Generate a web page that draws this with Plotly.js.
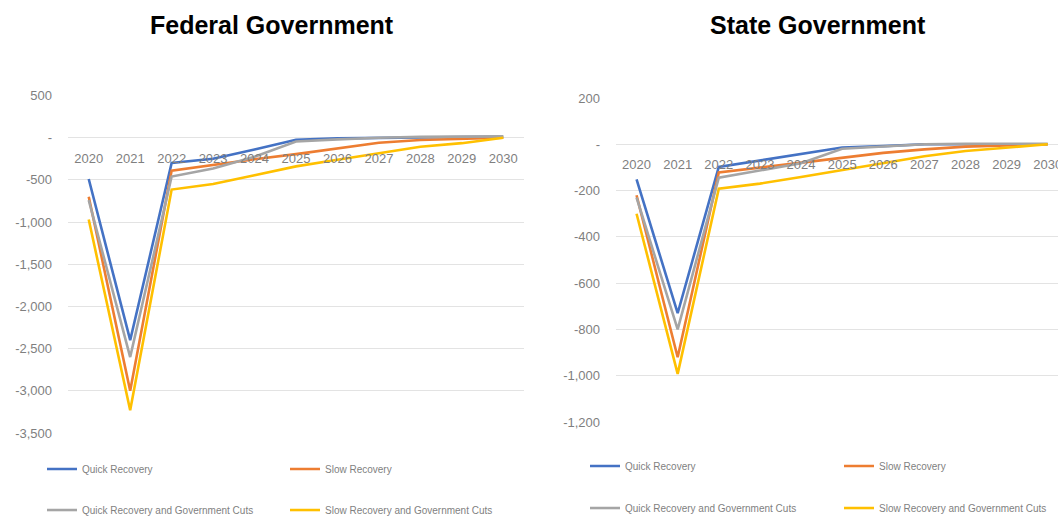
<!DOCTYPE html>
<html>
<head>
<meta charset="utf-8">
<script src="https://cdn.plot.ly/plotly-3.0.1.min.js"></script>
<style>html,body{margin:0;padding:0;background:#fff;}#chart{width:1058px;height:516px;}</style>
</head>
<body>
<div id="chart"></div>
<script>
const years = ['2020','2021','2022','2023','2024','2025','2026','2027','2028','2029','2030'];
const seriesNames = ['Quick Recovery','Slow Recovery','Quick Recovery and Government Cuts','Slow Recovery and Government Cuts'];
const chartTitles = ['Federal Government','State Government'];

// Federal Government
const fedQuick     = [-490, -2400, -300, -250, -140, -25, -8, 0, 5, 8, 10];
const fedSlow      = [-700, -3000, -390, -320, -255, -195, -125, -60, -27, -15, 0];
const fedQuickCuts = [-740, -2600, -460, -365, -225, -45, -20, 0, 10, 12, 15];
const fedSlowCuts  = [-970, -3230, -615, -550, -445, -340, -262, -185, -107, -65, 0];

// State Government
const stQuick     = [-152, -730, -98, -70, -40, -14, -8, 0, 0, 0, 0];
const stSlow      = [-220, -920, -122, -100, -78, -58, -37, -22, -10, -5, 0];
const stQuickCuts = [-230, -800, -144, -112, -82, -19, -8, 0, 2, 2, 2];
const stSlowCuts  = [-300, -992, -192, -170, -141, -112, -81, -52, -29, -14, 0];

const fedTickVals = [500, 0, -500, -1000, -1500, -2000, -2500, -3000, -3500];
const fedTickText = ['500', '-', '-500', '-1,000', '-1,500', '-2,000', '-2,500', '-3,000', '-3,500'];
const stTickVals = [200, 0, -200, -400, -600, -800, -1000, -1200];
const stTickText = ['200', '-', '-200', '-400', '-600', '-800', '-1,000', '-1,200'];

const colors = ['#4472C4', '#ED7D31', '#A5A5A5', '#FFC000'];

const W = 1058, H = 516;
const fedRange = [-3500, 500], stRange = [-1200, 200];
const fedYDom = [(H - 433) / H, (H - 95.5) / H];
const stYDom = [(H - 422) / H, (H - 98) / H];
const fedXDom = [68 / W, 524 / W];
const stXDom = [616 / W, 1];
function zeroPos(dom, r) { return dom[0] + (0 - r[0]) / (r[1] - r[0]) * (dom[1] - dom[0]); }

const fedData = [fedQuick, fedSlow, fedQuickCuts, fedSlowCuts];
const stData = [stQuick, stSlow, stQuickCuts, stSlowCuts];
const legendIds = [['legend', 'legend', 'legend2', 'legend2'], ['legend3', 'legend3', 'legend4', 'legend4']];

const traces = [];
fedData.forEach((ys, i) => traces.push({
  x: years, y: ys, type: 'scatter', mode: 'lines', name: seriesNames[i],
  line: {color: colors[i], width: 2.6}, xaxis: 'x', yaxis: 'y', legend: legendIds[0][i]
}));
stData.forEach((ys, i) => traces.push({
  x: years, y: ys, type: 'scatter', mode: 'lines', name: seriesNames[i],
  line: {color: colors[i], width: 2.6}, xaxis: 'x2', yaxis: 'y2', legend: legendIds[1][i]
}));

const tickFont = {family: 'Liberation Sans, Arial, sans-serif', size: 13, color: '#7f7f7f'};
const legFont = {family: 'Liberation Sans, Arial, sans-serif', size: 10, color: '#7f7f7f'};
const grid = '#e3e3e3';

function legend(x, y, ew) {
  return {orientation: 'h', x: x / W, y: 1 - y / H, xanchor: 'left', yanchor: 'middle',
    entrywidth: ew, entrywidthmode: 'pixels', font: legFont, bgcolor: 'rgba(0,0,0,0)', itemwidth: 30,
    traceorder: 'normal'};
}

const layout = {
  width: W, height: H, margin: {l: 0, r: 0, t: 0, b: 0, autoexpand: false},
  paper_bgcolor: '#fff', plot_bgcolor: '#fff', showlegend: true,
  xaxis: {domain: fedXDom, type: 'category', anchor: 'free', position: zeroPos(fedYDom, fedRange),
    range: [-0.5, 10.5], showgrid: false, showline: false, ticks: '', tickfont: tickFont, ticklabelstandoff: 11, automargin: false},
  yaxis: {domain: fedYDom, anchor: 'x', range: fedRange, tickvals: fedTickVals, ticktext: fedTickText,
    gridcolor: grid, zeroline: true, zerolinecolor: grid, zerolinewidth: 1, showline: false, ticks: '',
    tickfont: tickFont, ticklabelstandoff: 15, automargin: false},
  xaxis2: {domain: stXDom, type: 'category', anchor: 'free', position: zeroPos(stYDom, stRange),
    range: [-0.5, 10.25], showgrid: false, showline: false, ticks: '', tickfont: tickFont, ticklabelstandoff: 11, automargin: false},
  yaxis2: {domain: stYDom, anchor: 'x2', range: stRange, tickvals: stTickVals, ticktext: stTickText,
    gridcolor: grid, zeroline: true, zerolinecolor: grid, zerolinewidth: 1, showline: false, ticks: '',
    tickfont: tickFont, ticklabelstandoff: 15, automargin: false},
  legend: legend(42, 469, 198),
  legend2: legend(42, 510, 198),
  legend3: legend(585, 466, 209),
  legend4: legend(585, 508, 209),
  annotations: [
    {text: chartTitles[0], xref: 'paper', yref: 'paper', x: 272 / W, y: 1 - 25 / H, xanchor: 'center', yanchor: 'middle',
      showarrow: false, font: {family: 'Liberation Sans, Arial, sans-serif', size: 25, color: '#000', weight: 'bold'}},
    {text: chartTitles[1], xref: 'paper', yref: 'paper', x: 818 / W, y: 1 - 25 / H, xanchor: 'center', yanchor: 'middle',
      showarrow: false, font: {family: 'Liberation Sans, Arial, sans-serif', size: 25, color: '#000', weight: 'bold'}}
  ]
};

Plotly.newPlot('chart', traces, layout, {displayModeBar: false, staticPlot: true});
</script>
</body>
</html>
